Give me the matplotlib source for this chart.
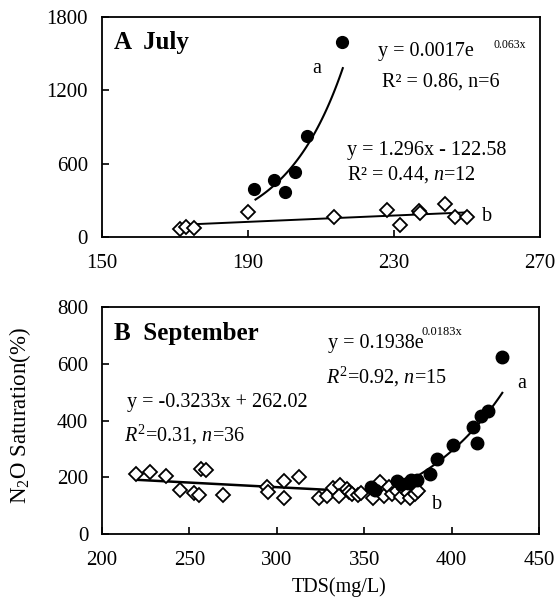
import numpy as np
import matplotlib
matplotlib.use("Agg")
import matplotlib.pyplot as plt

plt.rcParams['font.family'] = ['Liberation Serif', 'DejaVu Serif']
plt.rcParams['mathtext.fontset'] = 'custom'
plt.rcParams['mathtext.rm'] = 'Liberation Serif'
plt.rcParams['mathtext.it'] = 'Liberation Serif:italic'
plt.rcParams['mathtext.bf'] = 'Liberation Serif:bold'

# ---- Panel A (July) data ----
july_a_x = [191.6, 197.3, 200.1, 202.8, 206.3, 215.7]
july_a_y = [395, 464, 368, 532, 824, 1595]
july_b_x = [171.5, 173.1, 175.3, 190.1, 213.6, 228.0, 231.7, 236.9, 237.1, 244.1, 246.8, 250.0]
july_b_y = [65, 82, 76, 202, 164, 218, 101, 210, 196, 267, 164, 164]

# ---- Panel B (September) data ----
sep_b_x = [219.5, 227.5, 236.7, 244.7, 252.3, 255.5, 256.7, 259.5, 269.0, 294.1,
           295.2, 304.3, 304.3, 312.7, 324.1, 328.5, 332.3, 336.1, 335.7, 339.9,
           341.3, 343.0, 346.5, 348.0, 354.8, 359.0, 361.2, 364.0, 366.0, 369.0,
           371.0, 373.0, 375.0, 376.0, 379.0, 381.0]
sep_b_y = [212, 218, 206, 155, 144, 138, 229, 224, 138, 166,
           147, 187, 128, 200, 126, 134, 161, 173, 134, 158,
           149, 140, 138, 143, 126, 185, 134, 165, 140, 150,
           130, 160, 145, 128, 140, 150]
sep_a_x = [353.7, 356.0, 369.0, 371.0, 375.0, 376.6, 380.4, 387.6, 391.4, 401.0,
           412.4, 414.7, 416.6, 421.0, 428.6]
sep_a_y = [165, 155, 188, 175, 180, 190, 192, 213, 266, 313,
           378, 319, 415, 433, 625]

fig = plt.figure(figsize=(5.58, 6.10), dpi=100)
axA = fig.add_axes([0.1823, 0.6115, 0.7855, 0.3607])
axB = fig.add_axes([0.1830, 0.1246, 0.7830, 0.3721])

FS = 14.5
for ax in (axA, axB):
    for s in ax.spines.values():
        s.set_linewidth(1.3)
    ax.tick_params(direction='in', length=5, width=1.2, labelsize=15)
    ax.tick_params(axis='x', pad=12)
    ax.tick_params(axis='y', pad=10)

# Panel A
xa = np.linspace(192.1, 216.0, 100)
axA.plot(xa, 0.0017 * np.exp(0.063 * xa), color='black', lw=1.5, zorder=2)
xl = np.linspace(171.5, 250.5, 10)
axA.plot(xl, 1.296 * xl - 122.58, color='black', lw=1.4, zorder=2)
axA.plot(july_b_x, july_b_y, 'D', ms=7, mfc='white', mec='black', mew=1.3, zorder=3)
axA.plot(july_a_x, july_a_y, 'o', ms=8.5, color='black', zorder=4)
axA.set_xlim(150, 270)
axA.set_ylim(0, 1800)
axA.set_xticks([150, 190, 230, 270])
axA.set_yticks([0, 600, 1200, 1800])

axA.text(0.028, 0.886, 'A  July', transform=axA.transAxes, fontsize=18,
         fontweight='bold', va='center', ha='left')
axA.text(0.491, 0.768, 'a', transform=axA.transAxes, fontsize=FS, va='center', ha='center')
axA.text(0.630, 0.841, 'y = 0.0017e', transform=axA.transAxes, fontsize=FS, va='center', ha='left')
axA.text(0.893, 0.873, '0.063x', transform=axA.transAxes, fontsize=8.5, va='center', ha='left')
axA.text(0.640, 0.705, 'R\u00b2 = 0.86, n=6', transform=axA.transAxes, fontsize=FS, va='center', ha='left')
axA.text(0.560, 0.395, 'y = 1.296x - 122.58', transform=axA.transAxes, fontsize=FS, va='center', ha='left')
axA.text(0.560, 0.282, 'R\u00b2 = 0.44, $n$=12', transform=axA.transAxes, fontsize=FS, va='center', ha='left')
axA.text(0.879, 0.091, 'b', transform=axA.transAxes, fontsize=FS, va='center', ha='center')

# Panel B
xe = np.linspace(354, 429, 100)
axB.plot(xe, 0.1938 * np.exp(0.0183 * xe), color='black', lw=1.5, zorder=2)
xb = np.linspace(219.5, 332, 10)
axB.plot(xb, -0.3233 * xb + 262.02, color='black', lw=1.8, zorder=2)
axB.plot(sep_b_x, sep_b_y, 'D', ms=7, mfc='white', mec='black', mew=1.3, zorder=3)
axB.plot(sep_a_x, sep_a_y, 'o', ms=9, color='black', zorder=4)
axB.set_xlim(200, 450)
axB.set_ylim(0, 800)
axB.set_xticks([200, 250, 300, 350, 400, 450])
axB.set_yticks([0, 200, 400, 600, 800])

axB.text(0.0275, 0.885, 'B  September', transform=axB.transAxes, fontsize=18,
         fontweight='bold', va='center', ha='left')
axB.text(0.518, 0.841, 'y = 0.1938e', transform=axB.transAxes, fontsize=FS, va='center', ha='left')
axB.text(0.732, 0.890, '0.0183x', transform=axB.transAxes, fontsize=9, va='center', ha='left')
axB.text(0.513, 0.692, '$R^{2}$=0.92, $n$=15', transform=axB.transAxes, fontsize=FS, va='center', ha='left')
axB.text(0.961, 0.665, 'a', transform=axB.transAxes, fontsize=FS, va='center', ha='center')
axB.text(0.058, 0.581, 'y = -0.3233x + 262.02', transform=axB.transAxes, fontsize=FS, va='center', ha='left')
axB.text(0.050, 0.436, '$R^{2}$=0.31, $n$=36', transform=axB.transAxes, fontsize=FS, va='center', ha='left')
axB.text(0.766, 0.128, 'b', transform=axB.transAxes, fontsize=FS, va='center', ha='center')

fig.text(20 / 558, 1 - 416 / 610, 'N$_{2}$O Saturation(%)', rotation=90,
         fontsize=16.5, va='center', ha='center')
fig.text(339 / 558, 1 - 587 / 610, 'TDS(mg/L)', fontsize=FS, va='center', ha='center')

fig.savefig('out.png', dpi=100)
